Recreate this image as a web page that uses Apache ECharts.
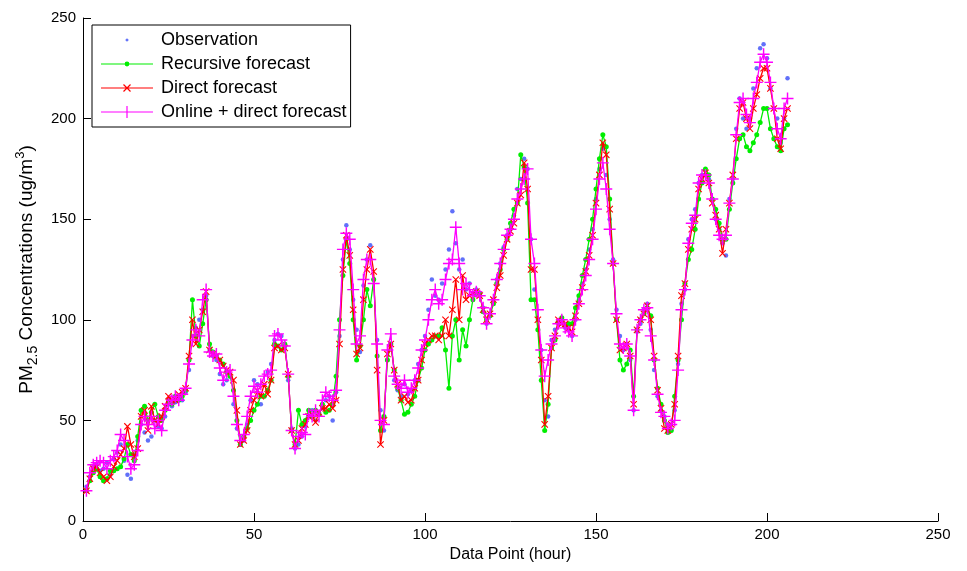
<!DOCTYPE html>
<html>
<head>
<meta charset="utf-8">
<script src="https://cdn.jsdelivr.net/npm/echarts@6/dist/echarts.min.js"></script>
<style>
html,body{margin:0;padding:0;background:#fff;}
#chart{width:967px;height:571px;}
</style>
</head>
<body>
<div id="chart"></div>
<script>
// ---- data (hour index 1..206) ----
var observation = [
17,22,27,28,25,26,29,23,31,34,
38,30,23,21,33,40,48,44,40,42,
50,47,46,52,58,57,59,61,60,64,
75,92,96,100,105,112,85,82,80,73,
68,70,72,58,46,38,40,48,60,70,
68,58,62,74,78,90,93,92,86,70,
46,36,38,42,47,52,55,50,54,56,
60,62,50,64,92,130,147,135,110,95,
84,117,130,137,120,90,55,45,80,88,
70,65,62,68,63,65,70,78,85,92,
105,120,112,110,118,125,135,154,138,125,
130,115,118,113,115,112,106,98,103,110,
120,128,136,142,145,152,165,170,180,175,
140,115,100,85,60,52,90,95,98,100,
96,95,92,100,110,118,125,135,145,160,
175,185,172,150,130,105,92,85,88,80,
55,94,98,105,108,95,75,62,55,52,
48,45,55,78,108,115,140,150,155,168,
172,172,170,160,150,145,138,132,160,170,
195,210,200,195,200,215,225,235,237,230,
215,205,200,188,200,220];

var recursiveForecast = [
15,20,24,26,22,20,21,25,25,26,
27,31,38,33,30,42,55,57,50,54,
58,52,50,55,60,58,62,60,62,65,
80,110,92,87,98,110,88,84,82,80,
78,74,72,65,50,38,42,46,50,55,
58,62,62,65,70,88,87,85,88,72,
45,38,55,48,50,55,52,55,53,58,
54,55,58,72,100,122,140,128,100,80,
87,100,115,107,120,82,45,52,80,88,
75,66,60,53,54,58,62,70,76,85,
88,90,92,92,96,85,66,92,100,80,
95,87,100,110,114,113,104,100,102,108,
118,125,135,140,148,155,158,182,176,158,
110,110,95,70,45,58,86,90,99,101,
97,98,98,106,112,122,130,140,150,165,
180,192,186,160,128,100,80,75,78,85,
62,95,100,103,106,102,80,66,58,50,
44,45,62,80,100,118,130,135,145,160,
168,175,172,160,155,148,140,140,155,168,
180,190,192,186,184,188,192,198,205,205,
195,190,186,184,195,197];

var directForecast = [
15,21,26,27,24,22,20,22,27,30,
33,36,47,38,32,36,52,55,45,57,
50,48,52,57,62,60,60,63,64,66,
82,100,88,95,104,114,85,83,82,80,
77,75,74,70,55,38,40,45,55,60,
65,62,68,63,70,86,87,85,86,73,
45,38,40,46,48,52,53,49,54,56,
56,58,56,60,88,125,142,132,105,83,
86,110,125,135,124,75,38,50,83,88,
75,68,60,62,59,60,66,70,80,88,
90,92,92,90,92,100,92,105,120,100,
122,110,112,113,114,112,105,100,103,110,
116,122,132,140,144,148,158,162,178,165,
125,125,100,80,48,62,86,92,100,98,
98,96,94,102,108,116,124,132,142,158,
172,188,182,155,128,100,85,86,88,82,
58,95,100,103,107,100,82,65,56,46,
45,48,58,82,112,118,135,145,150,165,
170,173,168,158,152,145,133,145,158,172,
190,205,208,200,195,205,212,220,225,225,
215,205,190,185,200,205];

var onlineDirectForecast = [
15,24,28,29,30,29,26,30,32,35,
43,40,32,26,28,35,48,52,48,52,
46,50,45,55,58,60,62,60,63,66,
78,90,95,92,110,115,84,82,83,76,
70,74,75,62,48,40,43,52,62,67,
64,68,72,73,75,92,93,90,87,73,
45,36,42,44,43,53,52,55,52,60,
64,62,60,65,95,135,143,140,115,88,
92,120,130,130,118,88,50,48,85,93,
72,68,66,70,64,66,70,76,85,90,
100,110,115,108,110,120,128,130,146,128,
115,118,115,112,114,112,106,98,103,110,
120,128,135,142,145,150,160,165,170,175,
140,128,105,85,72,80,88,92,98,100,
96,94,92,100,108,115,122,130,140,155,
170,178,165,145,128,103,88,86,88,82,
55,95,100,105,106,92,80,63,54,52,
46,48,50,75,105,115,138,148,152,168,
172,172,168,160,150,142,140,142,158,170,
192,208,210,202,198,210,218,228,232,228,
218,205,195,190,205,210];

var seriesNames = ['Observation', 'Recursive forecast', 'Direct forecast', 'Online + direct forecast'];
var xTicks = [0, 50, 100, 150, 200, 250];
var yTicks = [0, 50, 100, 150, 200, 250];

function toPairs(arr) {
  return arr.map(function (v, i) { return [i + 1, v]; });
}

var FONT = 'Liberation Sans, Arial, sans-serif';
var PLUS = 'path://M4.4,0H5.6V10H4.4Z M0,4.4H10V5.6H0Z';

var legendIcons = {
  obs: 'path://M0,0M52,14M26,5.2L27.8,7L26,8.8L24.2,7Z',
  rec: 'path://M0,0M52,14M0,6.4H52V7.6H0Z M23.6,7A2.4,2.4 0 1,1 28.4,7A2.4,2.4 0 1,1 23.6,7Z',
  dir: 'path://M0,0M52,14M0,6.4H52V7.6H0Z M22.92,3.08L29.92,10.08L29.08,10.92L22.08,3.92Z M22.08,10.08L29.08,3.08L29.92,3.92L22.92,10.92Z',
  onl: 'path://M0,0M52,14M0,6.4H52V7.6H0Z M25.4,1H26.6V13H25.4Z'
};

var chart = echarts.init(document.getElementById('chart'), null, { renderer: 'canvas' });
chart.setOption({
  animation: false,
  backgroundColor: '#fff',
  textStyle: { fontFamily: FONT },
  grid: { left: 83, right: 29, top: 18, bottom: 50, containLabel: false },
  legend: {
    orient: 'vertical',
    left: 92, top: 25,
    padding: [6, 4, 6, 9],
    itemWidth: 52, itemHeight: 14, itemGap: 6,
    backgroundColor: '#fff',
    borderColor: '#000', borderWidth: 1, borderRadius: 0,
    textStyle: { fontSize: 18, color: '#000', fontFamily: FONT, padding: [0, 0, 0, 3], lineHeight: 18 },
    data: [
      { name: seriesNames[0], icon: legendIcons.obs, itemStyle: { color: '#3a4cf8' } },
      { name: seriesNames[1], icon: legendIcons.rec, itemStyle: { color: '#00ee00' } },
      { name: seriesNames[2], icon: legendIcons.dir, itemStyle: { color: '#ff0000' } },
      { name: seriesNames[3], icon: legendIcons.onl, itemStyle: { color: '#ff00ff' } }
    ]
  },
  xAxis: {
    type: 'value', min: xTicks[0], max: xTicks[xTicks.length - 1], interval: 50,
    name: 'Data Point (hour)', nameLocation: 'middle', nameGap: 23,
    nameTextStyle: { fontSize: 16, color: '#000', fontFamily: FONT },
    axisLine: { show: true, lineStyle: { color: '#000', width: 1 } },
    axisTick: { show: true, inside: true, length: 8, lineStyle: { color: '#000' } },
    axisLabel: { fontSize: 15, color: '#000', margin: 6, fontFamily: FONT },
    splitLine: { show: false }
  },
  yAxis: {
    type: 'value', min: yTicks[0], max: yTicks[yTicks.length - 1], interval: 50,
    name: 'PM{sub|2.5} Concentrations (ug/m{sup|3})', nameLocation: 'middle', nameGap: 37,
    nameTextStyle: {
      fontSize: 19, color: '#000', fontFamily: FONT, lineHeight: 26,
      rich: {
        sub: { fontSize: 14, color: '#000', fontFamily: FONT, lineHeight: 14, verticalAlign: 'bottom' },
        sup: { fontSize: 13, color: '#000', fontFamily: FONT, lineHeight: 13, verticalAlign: 'top' }
      }
    },
    axisLine: { show: true, lineStyle: { color: '#000', width: 1 } },
    axisTick: { show: true, inside: true, length: 8, lineStyle: { color: '#000' } },
    axisLabel: { fontSize: 15, color: '#000', margin: 7, fontFamily: FONT },
    splitLine: { show: false }
  },
  series: [
    {
      name: seriesNames[0], type: 'scatter', data: toPairs(observation),
      symbol: 'circle', symbolSize: 4.5,
      itemStyle: { color: '#3a4cf8' }, z: 2
    },
    {
      name: seriesNames[1], type: 'line', data: toPairs(recursiveForecast),
      symbol: 'circle', symbolSize: 5, showAllSymbol: true,
      lineStyle: { color: '#00ee00', width: 1.3 }, itemStyle: { color: '#00ee00' }, z: 3
    },
    {
      name: seriesNames[2], type: 'line', data: toPairs(directForecast),
      symbol: PLUS, symbolRotate: 45, symbolSize: 9, showAllSymbol: true,
      lineStyle: { color: '#ff0000', width: 1.3 }, itemStyle: { color: '#ff0000' }, z: 4
    },
    {
      name: seriesNames[3], type: 'line', data: toPairs(onlineDirectForecast),
      symbol: PLUS, symbolSize: 12, showAllSymbol: true,
      lineStyle: { color: '#ff00ff', width: 1.3 }, itemStyle: { color: '#ff00ff' }, z: 5
    }
  ]
});
</script>
</body>
</html>
